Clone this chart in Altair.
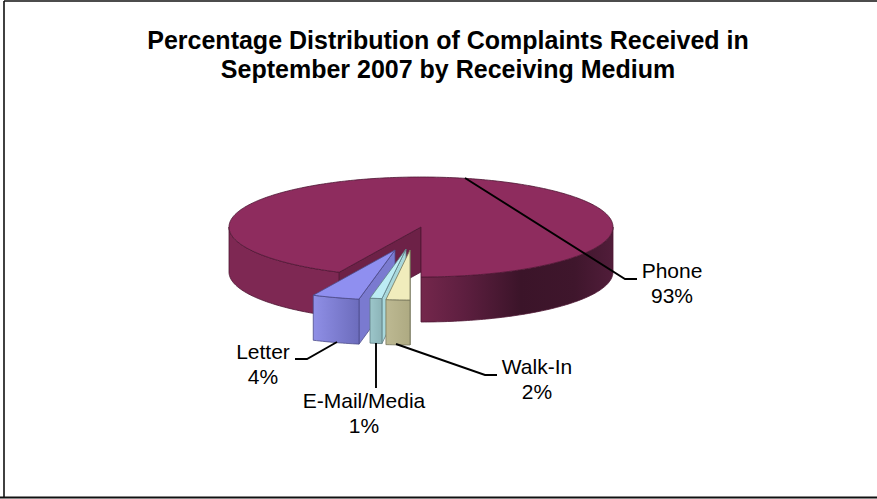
import math
import altair as alt

# Share of complaints by receiving medium, in clockwise order from the Phone slice
MEDIA = ["Phone", "Walk-In", "E-Mail/Media", "Letter"]
SHARES = [93, 2, 1, 4]

TITLE_LINES = [
    "Percentage Distribution of Complaints Received in",
    "September 2007 by Receiving Medium",
]

W, H = 877, 499
CX, CY = 421, 227      # centre of the pie's top face
RX, RY = 192, 50       # tilted ellipse radii
DEPTH = 45             # thickness of the disc
PHONE_END = 180        # Phone finishes at the front of the disc

# Offset of each pulled-out slice from the disc
EXPLODE = {"Phone": (0, 0), "Walk-In": (-11, 23), "E-Mail/Media": (-15, 22), "Letter": (-26, 23)}

STYLE = {
    "Walk-In": dict(top="#f0ecbc", front=["#bdb992", "#aeaa82"], wall="#cfcba0", edge="#77765a"),
    "E-Mail/Media": dict(top="#bcecf4", front=["#9cc6ca", "#8cb4b8"], wall="#a8d8dc", edge="#5f7f84"),
    "Letter": dict(top="#8f8ff0", front=["#8f8fe6", "#6c6cbc"], wall="#7a7ad0", edge="#4d4d8a"),
}
PHONE_EDGE = "#4e1733"
PHONE_TOP = "#8e2c5e"

# label centre (x, y of the first line) and leader path for each slice
LABELS = {
    "Phone": (672, 272, [[465, 178], [625, 279], [637, 279]]),
    "Walk-In": (537, 368, [[396, 344], [485, 375], [497, 375]]),
    "E-Mail/Media": (364, 402, [[376, 343], [376, 388]]),
    "Letter": (263, 353, [[337, 342], [307, 359], [295, 359]]),
}


def rim(theta, dx=0.0, dy=0.0):
    t = math.radians(theta)
    return [CX + RX * math.sin(t) + dx, CY - RY * math.cos(t) + dy]


def arc(a, b, dx=0.0, dy=0.0, step=1.0):
    n = max(2, int(abs(b - a) / step) + 1)
    return [rim(a + (b - a) * i / (n - 1), dx, dy) for i in range(n)]


def poly(points):
    ring = [list(p) for p in points]
    ring.append(ring[0])
    return alt.Data(values=[{"type": "Feature", "properties": {},
                             "geometry": {"type": "Polygon", "coordinates": [ring]}}])


def path(points):
    return alt.Data(values=[{"type": "Feature", "properties": {},
                             "geometry": {"type": "LineString", "coordinates": points}}])


def hgrad(stops):
    return alt.Gradient(
        gradient="linear", x1=0, x2=1, y1=0, y2=0,
        stops=[alt.GradientStop(color=c, offset=o) for o, c in stops],
    )


def face(points, fill, stroke, width=0.8):
    return (
        alt.Chart(poly(points))
        .mark_geoshape(fill=fill, stroke=stroke, strokeWidth=width)
        .project(type="identity", scale=1, translate=[0, 0])
    )


def polyline(points, color="#000000", width=1.9):
    return (
        alt.Chart(path(points))
        .mark_geoshape(filled=False, stroke=color, strokeWidth=width)
        .project(type="identity", scale=1, translate=[0, 0])
    )


def down(points):
    return [[x, y + DEPTH] for x, y in points]


layers = [polyline([[4, 1], [W, 1]], "#111111", 1.6),
          polyline([[4, 1], [4, 497.5]], "#111111", 1.6),
          polyline([[0, 497.5], [W, 497.5]], "#111111", 2.2)]

# Phone slice: it wraps from the lower left, over the back, to the front
total = sum(SHARES)
spans = {}
start = PHONE_END - SHARES[0] / total * 360
for name, share in zip(MEDIA, SHARES):
    end = start + share / total * 360
    spans[name] = (start, end)
    start = end

phone_a, phone_b = spans["Phone"]
phone_a_cw = phone_a + 360  # lower-left cut, clockwise from the top
phone_b_cw = phone_b + 360

left_rim = arc(phone_a_cw, 270)
right_rim = arc(90, 180)
layers.append(face(right_rim + down(right_rim)[::-1],
                   hgrad([(0, "#74274c"), (0.22, "#5e1f40"), (0.52, "#3b1429"),
                          (0.8, "#3f162c"), (1, "#511d3a")]), PHONE_EDGE))
layers.append(face(left_rim + down(left_rim)[::-1], "#7e2853", PHONE_EDGE))
layers.append(face([[CX, CY], rim(phone_a_cw), [rim(phone_a_cw)[0], rim(phone_a_cw)[1] + DEPTH], [CX, CY + DEPTH]],
                   "#6d2147", PHONE_EDGE))
layers.append(face([[CX, CY]] + arc(phone_a_cw, phone_b_cw), PHONE_TOP, PHONE_EDGE))

# Pulled-out slices, back to front so nearer ones cover the walls behind them
for name in ["Letter", "E-Mail/Media", "Walk-In"]:
    a, b = spans[name]
    lo, hi = min(a, b) + 360 if min(a, b) < 0 else min(a, b), max(a, b) + 360 if min(a, b) < 0 else max(a, b)
    dx, dy = EXPLODE[name]
    s = STYLE[name]
    apex = [CX + dx, CY + dy]
    near = rim(lo, dx, dy)  # edge closest to the front of the disc
    layers.append(face([apex, near, [near[0], near[1] + DEPTH], [apex[0], apex[1] + DEPTH]], s["wall"], s["edge"]))
    top_rim = arc(lo, hi, dx, dy)
    layers.append(face(top_rim + down(top_rim)[::-1],
                       hgrad([(0, s["front"][0]), (1, s["front"][1])]), s["edge"]))
    layers.append(face([apex] + top_rim, s["top"], s["edge"]))

# Leader lines run over the pie
for name in MEDIA:
    layers.append(polyline(LABELS[name][2]))

# Slice labels: name above, share below
label_rows = []
for name, share in zip(MEDIA, SHARES):
    x, y, _ = LABELS[name]
    label_rows.append({"text": name, "px": x, "py": y})
    label_rows.append({"text": f"{share}%", "px": x, "py": y + 25})

labels = (
    alt.Chart(alt.Data(values=label_rows))
    .mark_text(font="Liberation Sans", fontSize=21, color="#000000", align="center", baseline="middle")
    .encode(
        x=alt.X("px:Q", scale=alt.Scale(domain=[0, W], range=[0, W]), axis=None),
        y=alt.Y("py:Q", scale=alt.Scale(domain=[0, H], range=[0, H]), axis=None),
        text="text:N",
    )
)

title_rows = [{"text": t, "px": 448, "py": y} for t, y in zip(TITLE_LINES, [41, 70])]
titles = (
    alt.Chart(alt.Data(values=title_rows))
    .mark_text(font="Liberation Sans", fontSize=25, fontWeight="bold", color="#000000",
               align="center", baseline="middle")
    .encode(
        x=alt.X("px:Q", scale=alt.Scale(domain=[0, W], range=[0, W]), axis=None),
        y=alt.Y("py:Q", scale=alt.Scale(domain=[0, H], range=[0, H]), axis=None),
        text="text:N",
    )
)

chart = (
    alt.layer(*layers, labels, titles)
    .properties(width=W, height=H, padding=0, background="#ffffff", autosize=alt.AutoSizeParams(type="none"))
    .configure_view(stroke=None)
)

chart.save("out.html", embed_options={"renderer": "svg", "actions": False})
